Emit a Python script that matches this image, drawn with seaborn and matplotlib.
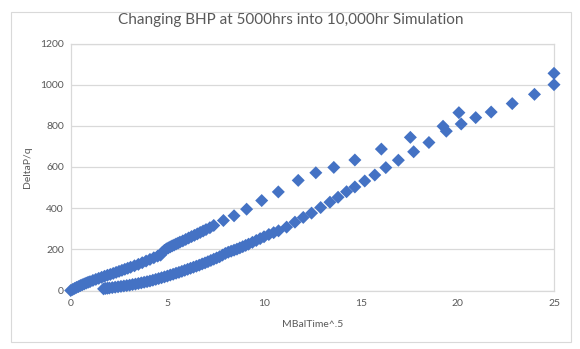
import matplotlib
matplotlib.use("Agg")
import matplotlib.pyplot as plt
from matplotlib.patches import Rectangle
import seaborn as sns
import pandas as pd

# Early-change branch: DeltaP/q against MBalTime^.5
upper_x = [0.0, 0.1, 0.2, 0.3, 0.4, 0.5, 0.6, 0.7, 0.8, 0.9, 1.0, 1.15, 1.3, 1.45,
           1.6, 1.75, 1.9, 2.05, 2.2, 2.35, 2.5, 2.65, 2.8, 2.95, 3.1, 3.3, 3.5, 3.7,
           3.9, 4.1, 4.3, 4.5, 4.65, 4.75, 4.85, 4.95, 5.05, 5.15, 5.25, 5.35, 5.45,
           5.55, 5.65, 5.8, 5.95, 6.1, 6.25, 6.4, 6.55, 6.7, 6.85, 7.0, 7.2, 7.4,
           7.9, 8.45, 9.1, 9.88, 10.74, 11.77, 12.68, 13.61, 14.7, 16.07, 17.57,
           19.26, 20.08, 25.0]
upper_y = [0, 5, 10, 15, 19, 24, 28, 32, 36, 40, 43, 49, 54, 59,
           64, 69, 74, 78, 83, 88, 93, 98, 103, 108, 113, 120, 127, 135,
           143, 151, 159, 167, 172, 186, 195, 202, 207, 212, 217, 221, 226,
           230, 235, 241, 248, 255, 262, 268, 275, 282, 289, 296, 305, 316,
           340, 363, 395, 437, 479, 535, 572, 598, 634, 687, 744,
           798, 864, 1055]

# Late-change branch
lower_x = [1.7, 1.8, 1.9, 2.0, 2.15, 2.3, 2.45, 2.6, 2.75, 2.9, 3.05, 3.2, 3.35,
           3.5, 3.65, 3.8, 3.95, 4.1, 4.25, 4.4, 4.55, 4.7, 4.85, 5.0, 5.15, 5.3,
           5.45, 5.6, 5.75, 5.9, 6.05, 6.2, 6.35, 6.5, 6.65, 6.8, 6.95, 7.1, 7.25,
           7.4, 7.55, 7.7, 7.85, 8.0, 8.15, 8.3, 8.45, 8.6, 8.75, 8.9, 9.05, 9.2,
           9.4, 9.6, 9.8, 10.0, 10.25, 10.5, 10.75, 11.17, 11.6, 12.03, 12.46,
           12.93, 13.41, 13.83, 14.27, 14.7, 15.21, 15.73, 16.3, 16.95, 17.74,
           18.53, 19.43, 20.2, 20.95, 21.75, 22.84, 23.99, 25.0]
lower_y = [8, 10, 11, 12, 14, 16, 18, 20, 22, 24, 26, 29, 31,
           34, 37, 40, 43, 46, 50, 54, 58, 62, 66, 70, 75, 79,
           84, 88, 93, 98, 103, 108, 113, 118, 123, 129, 134, 140, 146,
           152, 158, 164, 172, 180, 186, 191, 196, 201, 207, 213, 219, 225,
           234, 243, 252, 261, 272, 281, 290, 308, 332, 355, 376,
           403, 429, 453, 480, 503, 532, 561, 597, 633, 674,
           719, 774, 809, 840, 867, 908, 953, 1000]

x_ticks = [0, 5, 10, 15, 20, 25]
y_ticks = [0, 200, 400, 600, 800, 1000, 1200]

title = "Changing BHP at 5000hrs into 10,000hr Simulation"
x_label = "MBalTime^.5"
y_label = "DeltaP/q"

df = pd.concat([
    pd.DataFrame({"t": upper_x, "dp": upper_y, "run": "upper"}),
    pd.DataFrame({"t": lower_x, "dp": lower_y, "run": "lower"}),
])

sns.set_style("white")
plt.rcParams["font.family"] = ["Lato", "DejaVu Sans"]

blue = "#4472C4"
grid = "#D9D9D9"
text = "#595959"

fig = plt.figure(figsize=(5.8, 3.49), dpi=100)
ax = fig.add_axes([70.7 / 580, 1 - 290.5 / 349, (554 - 70.7) / 580, (290.5 - 43.5) / 349])

# outer chart frame
fig.patches.append(Rectangle((10.7 / 580, 1 - 341.7 / 349), 560 / 580, 330 / 349,
                             transform=fig.transFigure, fill=False,
                             edgecolor=grid, linewidth=0.8))

sns.scatterplot(data=df, x="t", y="dp", hue="run", palette={"upper": blue, "lower": blue},
                marker="D", s=44, linewidth=0, legend=False, ax=ax, zorder=3,
                clip_on=False)

ax.set_xlim(0, 25)
ax.set_ylim(0, 1200)
ax.set_xticks(x_ticks)
ax.set_yticks(y_ticks)
ax.yaxis.grid(True, color=grid, linewidth=0.9)
ax.xaxis.grid(False)
ax.set_axisbelow(True)
for sp in ax.spines.values():
    sp.set_visible(True)
    sp.set_color(grid)
    sp.set_linewidth(0.9)
ax.tick_params(axis="both", length=0, labelsize=7.5, labelcolor=text)
ax.tick_params(axis="y", pad=5)
ax.tick_params(axis="x", pad=6)

ax.set_xlabel(x_label, fontsize=7.5, color=text, labelpad=9)
ax.set_ylabel(y_label, fontsize=7.5, color=text, labelpad=6)
fig.text(291 / 580, 1 - 20 / 349, title, ha="center", va="center", fontsize=11, color=text)

fig.savefig("out.png", dpi=100)
